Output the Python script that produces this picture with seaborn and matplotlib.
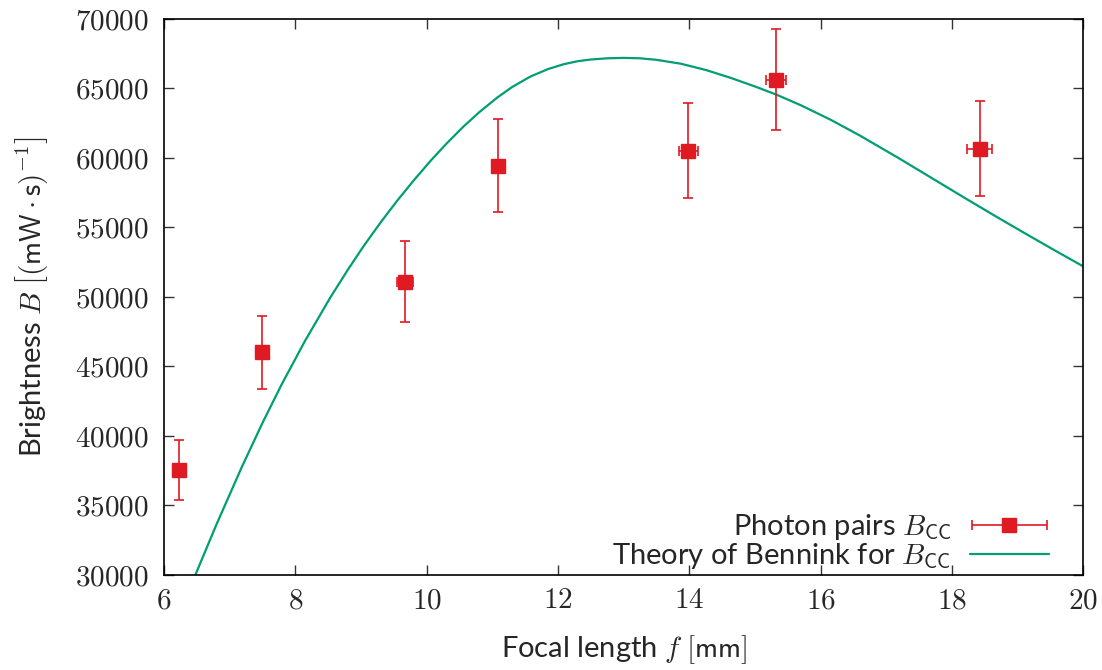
import numpy as np
import pandas as pd
import matplotlib
matplotlib.use("Agg")
import matplotlib.pyplot as plt
import seaborn as sns
from matplotlib.ticker import FuncFormatter, MultipleLocator
from matplotlib.legend_handler import HandlerErrorbar
from matplotlib.container import ErrorbarContainer

# measured data
focal = [6.23, 7.49, 9.67, 11.09, 13.98, 15.32, 18.42]
bright = [37520, 46010, 51090, 59430, 60520, 65630, 60670]
bright_err = [2160, 2625, 2900, 3330, 3400, 3650, 3400]
focal_err = [0.04, 0.05, 0.12, 0.10, 0.145, 0.157, 0.19]

# theory curve
theory_f = [6.40, 6.47, 6.80, 7.18, 7.50, 7.79, 8.15, 8.53, 8.80, 9.04, 9.30, 9.55,
            9.80, 10.06, 10.30, 10.56, 10.80, 11.07, 11.30, 11.58, 11.85, 12.09,
            12.30, 12.49, 12.75, 13.00, 13.25, 13.50, 13.87, 14.25, 14.63, 15.00,
            15.32, 15.70, 16.15, 16.60, 17.17, 17.60, 18.19, 18.70, 19.20, 19.60, 20.00]
theory_B = [29110, 29900, 33630, 37700, 40930, 43680, 46850, 49930, 51950, 53650,
            55360, 56910, 58360, 59790, 61015, 62250, 63280, 64320, 65090, 65850,
            66390, 66740, 66950, 67070, 67160, 67190, 67160, 67050, 66770, 66320,
            65750, 65130, 64555, 63775, 62740, 61590, 60025, 58800, 57120, 55690,
            54320, 53240, 52180]

label_pts = r"Photon pairs $B_{\mathsf{CC}}$"
label_th = r"Theory of Bennink for $B_{\mathsf{CC}}$"

sns.set_theme(style="ticks")
plt.rcParams["font.family"] = ["Lato", "DejaVu Sans"]
plt.rcParams["mathtext.fontset"] = "cm"

red = "#e01a22"
green = "#009e73"

fig = plt.figure(figsize=(11.02, 6.70), dpi=100)
ax = fig.add_axes([0.1488, 0.1421, 0.8344, 0.8298])

# error bars: horizontal (labelled) and vertical
ax.errorbar(focal, bright, xerr=focal_err, fmt="s", color=red, ms=9.5,
            ecolor=red, elinewidth=1.2, capsize=3.5, capthick=1.2,
            label=label_pts, zorder=3)
ax.errorbar(focal, bright, yerr=bright_err, fmt="none", ecolor=red,
            elinewidth=1.2, capsize=3.5, capthick=1.2, zorder=3)

df = pd.DataFrame({"f": theory_f, "B": theory_B})
sns.lineplot(data=df, x="f", y="B", ax=ax, color=green, lw=1.6,
             label=label_th, sort=False, zorder=2)

ax.set_xlim(6, 20)
ax.set_ylim(30000, 70000)
ax.xaxis.set_major_locator(MultipleLocator(2))
ax.yaxis.set_major_locator(MultipleLocator(5000))
fmt = FuncFormatter(lambda v, p: r"$%d$" % int(round(v)))
ax.xaxis.set_major_formatter(fmt)
ax.yaxis.set_major_formatter(fmt)
ax.tick_params(axis="both", which="major", direction="in", length=7, width=1.0,
               labelsize=21, top=True, right=True, color="#333333")
ax.tick_params(axis="y", pad=11)
ax.tick_params(axis="x", pad=9)
for s in ax.spines.values():
    s.set_visible(True)
    s.set_linewidth(1.2)
    s.set_color("black")

ax.set_xlabel(r"Focal length $f$ $[\mathsf{mm}]$", fontsize=21, labelpad=14)
ax.set_ylabel(r"Brightness $B$ $\left[(\mathsf{mW}\cdot\mathsf{s})^{-1}\right]$",
              fontsize=21, labelpad=18)

handles, labels = ax.get_legend_handles_labels()
order = [labels.index(label_pts), labels.index(label_th)]
leg = ax.legend([handles[i] for i in order], [labels[i] for i in order],
                loc="lower right", bbox_to_anchor=(0.975, -0.015),
                frameon=False, markerfirst=False, fontsize=21,
                handlelength=2.7, handletextpad=0.65, labelspacing=0.0,
                borderaxespad=0.0,
                handler_map={ErrorbarContainer: HandlerErrorbar(xerr_size=1.3)})

fig.savefig("out.png", dpi=100)
